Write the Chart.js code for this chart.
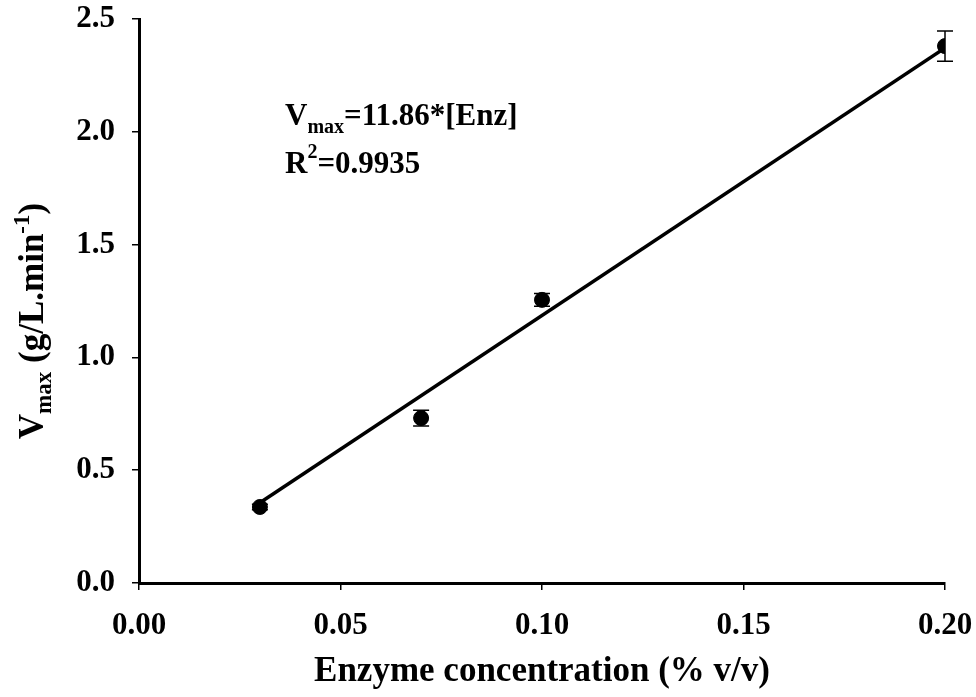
<!DOCTYPE html>
<html><head><meta charset="utf-8">
<script src="https://cdn.jsdelivr.net/npm/chart.js@4/dist/chart.umd.min.js"></script>
<style>html,body{margin:0;padding:0;background:#fff;}#wrap{width:976px;height:697px;}</style>
</head><body><div id="wrap"><canvas id="c" width="976" height="697"></canvas></div>
<script>
// ---- data ----
const enzymeConc = [0.03, 0.07, 0.10, 0.20];
const vmaxValues = [0.337, 0.731, 1.255, 2.38];
const vmaxErrors = [0.012, 0.035, 0.028, 0.067];
const fitConc = [0.03, 0.20];
const fitValues = [0.356, 2.372];
const xTickLabels = ['0.00', '0.05', '0.10', '0.15', '0.20'];
const yTickLabels = ['0.0', '0.5', '1.0', '1.5', '2.0', '2.5'];
const xTitleText = 'Enzyme concentration (% v/v)';
const yTitleParts = ['V', 'max', ' (g/L.min', '-1', ')'];
const equationParts = ['V', 'max', '=11.86*[Enz]'];
const r2Parts = ['R', '2', '=0.9935'];

const FONT = '"Liberation Serif", "Times New Roman", serif';

const errorBarPlugin = {
  id: 'errorBars',
  afterDatasetsDraw(chart) {
    const ctx = chart.ctx, xs = chart.scales.x, ys = chart.scales.y;
    ctx.save();
    ctx.strokeStyle = '#000';
    ctx.lineWidth = 1.5;
    enzymeConc.forEach((x, i) => {
      const px = xs.getPixelForValue(x);
      const top = ys.getPixelForValue(vmaxValues[i] + vmaxErrors[i]);
      const bot = ys.getPixelForValue(vmaxValues[i] - vmaxErrors[i]);
      ctx.beginPath();
      ctx.moveTo(px, top); ctx.lineTo(px, bot);
      ctx.moveTo(px - 8, top); ctx.lineTo(px + 8, top);
      ctx.moveTo(px - 8, bot); ctx.lineTo(px + 8, bot);
      ctx.stroke();
    });
    ctx.restore();
  }
};

function drawParts(ctx, parts, x, y, big, small, shifts) {
  let cx = x;
  parts.forEach((p, i) => {
    const sz = shifts[i] === 0 ? big : small;
    ctx.font = 'bold ' + sz + 'px ' + FONT;
    ctx.fillText(p, cx, y + shifts[i]);
    cx += ctx.measureText(p).width;
  });
  return cx - x;
}
function measureParts(ctx, parts, big, small, shifts) {
  let w = 0;
  parts.forEach((p, i) => {
    ctx.font = 'bold ' + (shifts[i] === 0 ? big : small) + 'px ' + FONT;
    w += ctx.measureText(p).width;
  });
  return w;
}

const textPlugin = {
  id: 'texts',
  afterDraw(chart) {
    const ctx = chart.ctx, ca = chart.chartArea;
    ctx.save();
    ctx.fillStyle = '#000';
    ctx.textBaseline = 'alphabetic';
    ctx.textAlign = 'left';
    // equation annotation
    drawParts(ctx, equationParts, ca.left + 146, ca.top + 106, 31, 20, [0, 8, 0]);
    drawParts(ctx, r2Parts, ca.left + 146, ca.top + 154, 31, 20, [0, -15, 0]);
    // y title (rotated)
    const yShifts = [0, 8, 0, -14, 0];
    const w = measureParts(ctx, yTitleParts, 35, 23, yShifts);
    ctx.translate(43, (ca.top + ca.bottom) / 2 + 20);
    ctx.rotate(-Math.PI / 2);
    drawParts(ctx, yTitleParts, -w / 2, 0, 35, 23, yShifts);
    ctx.restore();
  }
};

new Chart(document.getElementById('c'), {
  data: {
    datasets: [
      {
        type: 'line',
        data: fitConc.map((x, i) => ({ x: x, y: fitValues[i] })),
        borderColor: '#000',
        borderWidth: 3.5,
        pointRadius: 0,
        fill: false,
        order: 2
      },
      {
        type: 'scatter',
        data: enzymeConc.map((x, i) => ({ x: x, y: vmaxValues[i] })),
        backgroundColor: '#000',
        borderColor: '#000',
        pointRadius: 7.5,
        pointHoverRadius: 7.5,
        order: 1
      }
    ]
  },
  options: {
    responsive: false,
    animation: false,
    devicePixelRatio: 1,
    layout: { padding: { top: 19, right: 31, left: 0, bottom: 0 } },
    plugins: { legend: { display: false }, tooltip: { enabled: false } },
    scales: {
      x: {
        type: 'linear',
        min: 0, max: 0.2,
        afterBuildTicks(s) { s.ticks = xTickLabels.map(t => ({ value: parseFloat(t) })); },
        afterFit(s) { s.height = 114; s.paddingLeft = 0; s.paddingRight = 0; },
        ticks: {
          color: '#000',
          font: { family: FONT, size: 31, weight: 'bold' },
          padding: 17,
          maxRotation: 0,
          autoSkip: false,
          callback: (v, i) => xTickLabels[i]
        },
        grid: { display: true, drawOnChartArea: false, drawTicks: true, tickLength: 7, color: '#000', lineWidth: 1.5 },
        border: { display: true, color: '#000', width: 3 },
        title: {
          display: true,
          text: xTitleText,
          color: '#000',
          font: { family: FONT, size: 35, weight: 'bold' },
          padding: { top: 0, bottom: 4 }
        }
      },
      y: {
        type: 'linear',
        min: 0, max: 2.5,
        afterBuildTicks(s) { s.ticks = yTickLabels.map(t => ({ value: parseFloat(t) })); },
        afterFit(s) { s.width = 139; s.paddingTop = 0; s.paddingBottom = 0; },
        ticks: {
          color: '#000',
          font: { family: FONT, size: 31, weight: 'bold' },
          padding: 17,
          autoSkip: false,
          callback: (v, i) => yTickLabels[i]
        },
        grid: { display: true, drawOnChartArea: false, drawTicks: true, tickLength: 7, color: '#000', lineWidth: 1.5 },
        border: { display: true, color: '#000', width: 3 }
      }
    }
  },
  plugins: [errorBarPlugin, textPlugin]
});
</script>
</body></html>
